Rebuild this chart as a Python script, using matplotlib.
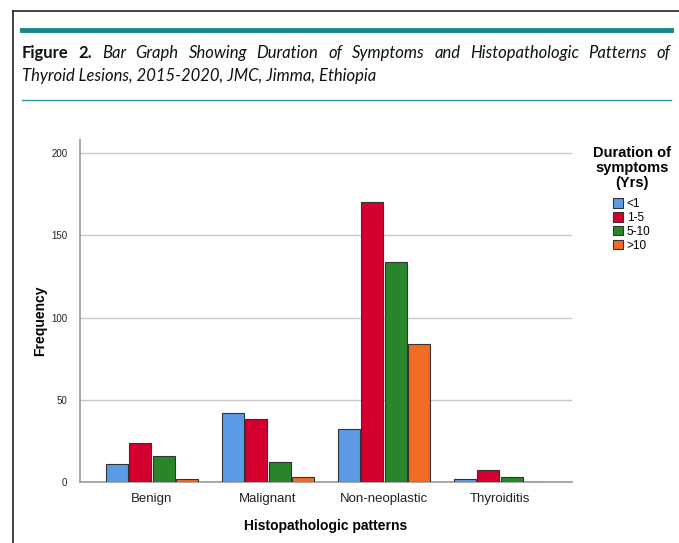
import numpy as np
import matplotlib
matplotlib.use("Agg")
import matplotlib.pyplot as plt
from matplotlib.lines import Line2D
from matplotlib.patches import Patch

# data
categories = ["Benign", "Malignant", "Non-neoplastic", "Thyroiditis"]
durations = ["<1", "1-5", "5-10", ">10"]
lt1 = [11, 42, 32, 2]
y1_5 = [24, 38, 170, 7]
y5_10 = [16, 12, 134, 3]
gt10 = [2, 3, 84, 0]
yticks = [0, 50, 100, 150, 200]

series = [lt1, y1_5, y5_10, gt10]
colors = ["#5b9be6", "#d40030", "#2a842a", "#f26b22"]

plt.rcParams["font.family"] = ["Liberation Sans", "DejaVu Sans"]

W, H = 679, 543
fig = plt.figure(figsize=(W / 100, H / 100), dpi=100)
renderer = fig.canvas.get_renderer()

# frame + caption rules
fig.add_artist(Line2D([13 / W, 13 / W], [0, 1 - 11 / H], color="#222222", lw=1.2))
fig.add_artist(Line2D([13 / W, 1], [1 - 11 / H, 1 - 11 / H], color="#222222", lw=1.2))
fig.add_artist(Line2D([22 / W, 671 / W], [1 - 30 / H, 1 - 30 / H], color="#13878a", lw=3.5))
fig.add_artist(Line2D([22 / W, 671 / W], [1 - 100 / H, 1 - 100 / H], color="#2a9a9c", lw=1))

cap_font = ["Lato", "DejaVu Sans"]
cap_size = 12

# first caption line is justified: place words one by one
line1 = [("Figure", "bold"), ("2.", "bold")] + [
    (w, "italic") for w in
    "Bar Graph Showing Duration of Symptoms and Histopathologic Patterns of".split()]
texts = []
for w, st in line1:
    kw = {"fontweight": "bold"} if st == "bold" else {"style": "italic"}
    t = fig.text(0, 1 - 53 / H, w, fontsize=cap_size, family=cap_font,
                 va="center", ha="left", color="#111111", **kw)
    texts.append(t)
widths = [t.get_window_extent(renderer).width for t in texts]
left, right = 22, 671
gap = (right - left - sum(widths)) / (len(texts) - 1)
xpos = left
for t, wd in zip(texts, widths):
    t.set_x(xpos / W)
    xpos += wd + gap

fig.text(22 / W, 1 - 76 / H, "Thyroid Lesions, 2015-2020, JMC, Jimma, Ethiopia",
         fontsize=cap_size, style="italic", family=cap_font, va="center", ha="left",
         color="#111111")

# chart
ytop = 208
ax = fig.add_axes([80 / W, 1 - 482 / H, (572 - 80) / W, ytop * 1.645 / H])
x = np.arange(len(categories))
bw = 0.19
step = 0.203
for i, (vals, c) in enumerate(zip(series, colors)):
    ax.bar(x + (i - 1.5) * step, vals, width=bw, color=c,
           edgecolor="#333333", linewidth=0.8, zorder=3)

ax.set_xlim(-0.62, 3.62)
ax.set_ylim(0, ytop)
ax.set_yticks(yticks)
ax.yaxis.grid(True, color="#c8c8c8", lw=1, zorder=0)
ax.set_xticks(x)
ax.set_xticklabels(categories, fontsize=9.5, color="#222222")
ax.tick_params(axis="y", labelsize=7, colors="#222222", length=0, pad=9)
ax.tick_params(axis="x", length=0, pad=8)
for s in ["top", "right"]:
    ax.spines[s].set_visible(False)
for s in ["left", "bottom"]:
    ax.spines[s].set_color("#999999")
    ax.spines[s].set_linewidth(1.2)

ax.set_xlabel("Histopathologic patterns", fontsize=10, fontweight="bold", labelpad=10)
ax.set_ylabel("Frequency", fontsize=10, fontweight="bold")
ax.yaxis.set_label_coords(-(80 - 47) / (572 - 80), 0.47)

handles = [Patch(facecolor=c, edgecolor="#333333", lw=0.8) for c in colors]
leg = fig.legend(handles, durations, title="Duration of\nsymptoms\n(Yrs)",
                 loc="upper left", bbox_to_anchor=(588 / W, 1 - 141 / H),
                 frameon=False, fontsize=8.5,
                 title_fontproperties={"weight": "bold", "size": 10.5},
                 handlelength=0.85, handleheight=0.85, handletextpad=0.3,
                 labelspacing=0.15, borderaxespad=0)
leg._legend_box.align = "center"
leg._legend_box.sep = 6
leg.get_title().set_multialignment("center")
leg.get_title().set_linespacing(1.1)

fig.savefig("out.png", dpi=100)
